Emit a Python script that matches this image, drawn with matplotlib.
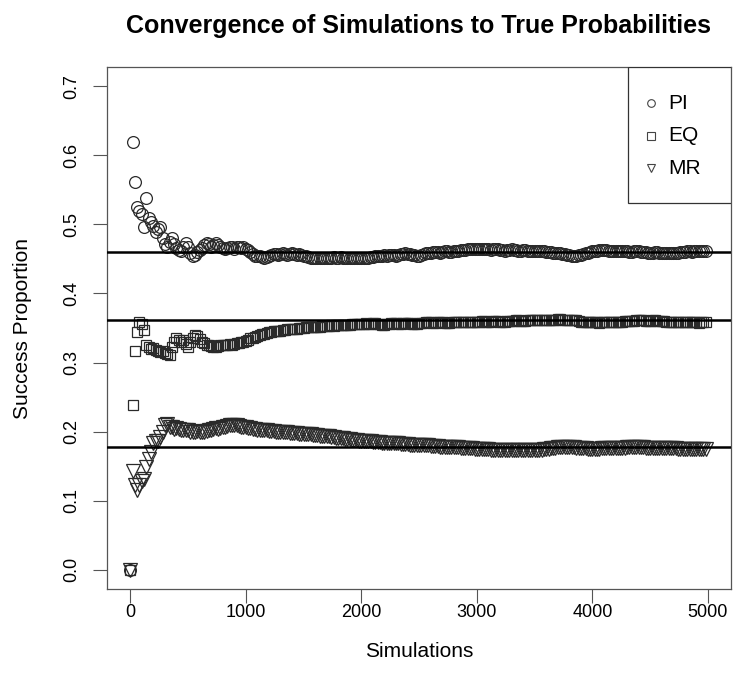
import numpy as np
import matplotlib.pyplot as plt
from matplotlib.patches import Rectangle

plt.rcParams['font.family'] = ['Liberation Sans', 'DejaVu Sans']

# proportions recorded every 20 simulations (1, 21, 41, ..., 4981)
sims = np.arange(1, 5000, 20)

pi_prop = [
    0.000, 0.619, 0.561, 0.525, 0.519, 0.515, 0.496, 0.539, 0.509, 0.503,
    0.498, 0.489, 0.494, 0.497, 0.480, 0.472, 0.467, 0.475, 0.481, 0.472,
    0.466, 0.463, 0.461, 0.468, 0.473, 0.468, 0.458, 0.454, 0.456, 0.460,
    0.463, 0.466, 0.470, 0.473, 0.471, 0.468, 0.470, 0.473, 0.470, 0.467,
    0.466, 0.464, 0.466, 0.468, 0.467, 0.465, 0.467, 0.468, 0.466, 0.467,
    0.465, 0.463, 0.460, 0.457, 0.455, 0.454, 0.455, 0.453, 0.452, 0.453,
    0.455, 0.456, 0.457, 0.457, 0.456, 0.457, 0.458, 0.457, 0.456, 0.457,
    0.458, 0.457, 0.456, 0.457, 0.456, 0.455, 0.454, 0.453, 0.452, 0.452,
    0.451, 0.452, 0.451, 0.452, 0.452, 0.451, 0.452, 0.452, 0.453, 0.452,
    0.452, 0.453, 0.452, 0.452, 0.451, 0.452, 0.451, 0.452, 0.451, 0.452,
    0.451, 0.451, 0.452, 0.452, 0.453, 0.453, 0.454, 0.454, 0.455, 0.455,
    0.456, 0.455, 0.456, 0.456, 0.456, 0.455, 0.456, 0.457, 0.457, 0.458,
    0.457, 0.457, 0.456, 0.456, 0.455, 0.455, 0.456, 0.457, 0.458, 0.458,
    0.459, 0.460, 0.460, 0.460, 0.459, 0.460, 0.461, 0.461, 0.460, 0.460,
    0.461, 0.462, 0.462, 0.463, 0.463, 0.463, 0.464, 0.464, 0.465, 0.465,
    0.464, 0.465, 0.465, 0.464, 0.464, 0.464, 0.463, 0.464, 0.464, 0.464,
    0.463, 0.463, 0.462, 0.463, 0.463, 0.464, 0.463, 0.463, 0.462, 0.462,
    0.463, 0.463, 0.462, 0.462, 0.461, 0.461, 0.462, 0.462, 0.461, 0.461,
    0.460, 0.460, 0.460, 0.459, 0.459, 0.458, 0.458, 0.457, 0.457, 0.456,
    0.456, 0.455, 0.455, 0.455, 0.456, 0.456, 0.457, 0.458, 0.459, 0.460,
    0.461, 0.462, 0.462, 0.463, 0.463, 0.463, 0.463, 0.462, 0.462, 0.462,
    0.461, 0.462, 0.462, 0.461, 0.461, 0.461, 0.460, 0.460, 0.461, 0.461,
    0.461, 0.460, 0.460, 0.460, 0.459, 0.459, 0.459, 0.460, 0.460, 0.459,
    0.459, 0.459, 0.458, 0.458, 0.458, 0.459, 0.459, 0.459, 0.460, 0.460,
    0.460, 0.461, 0.461, 0.460, 0.461, 0.461, 0.462, 0.462, 0.462, 0.462,
]

eq_prop = [
    0.000, 0.238, 0.317, 0.344, 0.358, 0.356, 0.347, 0.326, 0.323, 0.320,
    0.321, 0.318, 0.316, 0.315, 0.316, 0.314, 0.313, 0.311, 0.322, 0.330,
    0.335, 0.332, 0.330, 0.333, 0.327, 0.323, 0.330, 0.336, 0.340, 0.338,
    0.334, 0.330, 0.328, 0.326, 0.325, 0.324, 0.323, 0.323, 0.324, 0.325,
    0.325, 0.326, 0.326, 0.327, 0.326, 0.327, 0.328, 0.329, 0.330, 0.330,
    0.331, 0.333, 0.335, 0.336, 0.337, 0.338, 0.340, 0.341, 0.342, 0.343,
    0.344, 0.344, 0.345, 0.345, 0.346, 0.346, 0.347, 0.347, 0.348, 0.348,
    0.348, 0.349, 0.349, 0.350, 0.350, 0.350, 0.351, 0.351, 0.351, 0.352,
    0.352, 0.352, 0.352, 0.353, 0.353, 0.353, 0.353, 0.354, 0.353, 0.354,
    0.354, 0.354, 0.355, 0.355, 0.355, 0.355, 0.356, 0.356, 0.356, 0.356,
    0.356, 0.356, 0.357, 0.356, 0.356, 0.357, 0.357, 0.356, 0.356, 0.355,
    0.355, 0.356, 0.356, 0.357, 0.357, 0.357, 0.356, 0.356, 0.357, 0.357,
    0.357, 0.357, 0.356, 0.356, 0.356, 0.357, 0.357, 0.357, 0.358, 0.358,
    0.358, 0.357, 0.357, 0.358, 0.358, 0.358, 0.357, 0.357, 0.357, 0.358,
    0.358, 0.358, 0.358, 0.359, 0.359, 0.359, 0.358, 0.358, 0.359, 0.359,
    0.359, 0.359, 0.360, 0.360, 0.359, 0.359, 0.359, 0.360, 0.360, 0.360,
    0.359, 0.359, 0.359, 0.360, 0.360, 0.360, 0.360, 0.361, 0.361, 0.360,
    0.360, 0.360, 0.361, 0.361, 0.361, 0.362, 0.362, 0.362, 0.362, 0.361,
    0.361, 0.361, 0.362, 0.362, 0.362, 0.363, 0.363, 0.362, 0.362, 0.362,
    0.362, 0.362, 0.361, 0.361, 0.360, 0.359, 0.359, 0.358, 0.358, 0.358,
    0.358, 0.358, 0.358, 0.357, 0.358, 0.358, 0.358, 0.358, 0.359, 0.359,
    0.359, 0.359, 0.359, 0.359, 0.360, 0.360, 0.360, 0.360, 0.360, 0.361,
    0.361, 0.361, 0.361, 0.360, 0.360, 0.360, 0.361, 0.361, 0.360, 0.360,
    0.360, 0.360, 0.359, 0.359, 0.359, 0.359, 0.358, 0.358, 0.358, 0.358,
    0.358, 0.358, 0.358, 0.358, 0.358, 0.358, 0.357, 0.358, 0.358, 0.358,
]

mr_prop = [
    0.000, 0.143, 0.122, 0.115, 0.123, 0.129, 0.132, 0.149, 0.161, 0.171,
    0.184, 0.186, 0.187, 0.192, 0.200, 0.209, 0.211, 0.207, 0.206, 0.204,
    0.205, 0.204, 0.203, 0.202, 0.203, 0.202, 0.200, 0.199, 0.200, 0.201,
    0.200, 0.199, 0.200, 0.201, 0.202, 0.203, 0.204, 0.205, 0.204, 0.205,
    0.206, 0.207, 0.208, 0.209, 0.209, 0.210, 0.209, 0.208, 0.207, 0.207,
    0.206, 0.205, 0.205, 0.204, 0.204, 0.203, 0.203, 0.202, 0.202, 0.202,
    0.201, 0.201, 0.201, 0.200, 0.200, 0.200, 0.199, 0.199, 0.199, 0.198,
    0.198, 0.198, 0.198, 0.197, 0.197, 0.197, 0.196, 0.196, 0.196, 0.195,
    0.195, 0.195, 0.194, 0.194, 0.193, 0.193, 0.193, 0.192, 0.192, 0.191,
    0.191, 0.190, 0.190, 0.189, 0.189, 0.189, 0.188, 0.188, 0.188, 0.187,
    0.187, 0.187, 0.186, 0.186, 0.186, 0.185, 0.185, 0.185, 0.185, 0.184,
    0.184, 0.184, 0.184, 0.183, 0.183, 0.183, 0.183, 0.182, 0.182, 0.182,
    0.182, 0.181, 0.181, 0.181, 0.181, 0.180, 0.180, 0.180, 0.180, 0.180,
    0.179, 0.179, 0.179, 0.179, 0.178, 0.178, 0.178, 0.178, 0.177, 0.177,
    0.177, 0.177, 0.177, 0.176, 0.176, 0.176, 0.176, 0.176, 0.176, 0.175,
    0.175, 0.175, 0.175, 0.175, 0.175, 0.175, 0.174, 0.174, 0.174, 0.174,
    0.174, 0.174, 0.174, 0.174, 0.174, 0.174, 0.173, 0.173, 0.173, 0.173,
    0.173, 0.173, 0.173, 0.173, 0.173, 0.174, 0.174, 0.174, 0.174, 0.175,
    0.175, 0.175, 0.176, 0.176, 0.176, 0.177, 0.177, 0.177, 0.177, 0.177,
    0.177, 0.177, 0.177, 0.176, 0.176, 0.176, 0.176, 0.176, 0.175, 0.175,
    0.175, 0.175, 0.175, 0.175, 0.176, 0.176, 0.176, 0.176, 0.176, 0.176,
    0.176, 0.176, 0.176, 0.176, 0.176, 0.177, 0.177, 0.177, 0.177, 0.177,
    0.177, 0.177, 0.177, 0.176, 0.176, 0.176, 0.176, 0.176, 0.176, 0.176,
    0.176, 0.176, 0.176, 0.176, 0.176, 0.176, 0.176, 0.175, 0.175, 0.175,
    0.175, 0.175, 0.175, 0.175, 0.175, 0.175, 0.175, 0.175, 0.175, 0.175,
]

true_probs = [0.460, 0.362, 0.178]
labels = ['PI', 'EQ', 'MR']
x_ticks = [0, 1000, 2000, 3000, 4000, 5000]
y_ticks = [0.0, 0.1, 0.2, 0.3, 0.4, 0.5, 0.6, 0.7]

fig = plt.figure(figsize=(7.34, 6.88), dpi=100)
ax = fig.add_axes([0.1458, 0.1439, 0.8501, 0.7587])

series = [pi_prop, eq_prop, mr_prop]
markers = ['o', 's', 'v']
sizes = [8.5, 7.5, 9.5]
for vals, m, ms in zip(series, markers, sizes):
    ax.plot(sims, vals, linestyle='none', marker=m, markersize=ms,
            markerfacecolor='none', markeredgecolor='#2a2a2a',
            markeredgewidth=0.9)

# true probabilities
for p in true_probs:
    ax.axhline(p, color='black', linewidth=1.8, zorder=5)

ax.set_xlim(-200, 5200)
ax.set_ylim(-0.028, 0.728)
ax.set_xticks(x_ticks)
ax.set_yticks(y_ticks)
ax.set_xticklabels([str(t) for t in x_ticks])
ax.set_yticklabels([f'{t:.1f}' for t in y_ticks], rotation=90, va='center')
ax.tick_params(direction='out', length=10, width=0.8, color='#555555',
               labelsize=13)
ax.tick_params(axis='x', pad=0.5)
ax.tick_params(axis='y', pad=9)
for sp in ax.spines.values():
    sp.set_color('#555555')
    sp.set_linewidth(0.9)

ax.set_xlabel('Simulations', fontsize=15, va='center')
ax.xaxis.set_label_coords(0.5, -0.1188)
ax.set_ylabel('Success Proportion', fontsize=15, va='center')
ax.yaxis.set_label_coords(-0.136, 0.5)
fig.text(0.5695, 1 - 26 / 688, 'Convergence of Simulations to True Probabilities',
         fontsize=18, fontweight='bold', ha='center', va='center')

# legend box in the top right corner, R style
ax.add_patch(Rectangle((0.835, 0.7395), 0.165, 0.2605, transform=ax.transAxes,
                       facecolor='white', edgecolor='#333333', linewidth=0.9,
                       zorder=6))
row_y = [0.931, 0.868, 0.8065]
for m, lab, yy in zip(markers, labels, row_y):
    ax.plot([0.8718], [yy], transform=ax.transAxes, linestyle='none',
            marker=m, markersize=5.5, markerfacecolor='none',
            markeredgecolor='#444444', markeredgewidth=0.8, zorder=7)
    ax.text(0.899, yy, lab, transform=ax.transAxes, fontsize=15,
            va='center', ha='left', zorder=7)

fig.savefig('out.png', dpi=100)
